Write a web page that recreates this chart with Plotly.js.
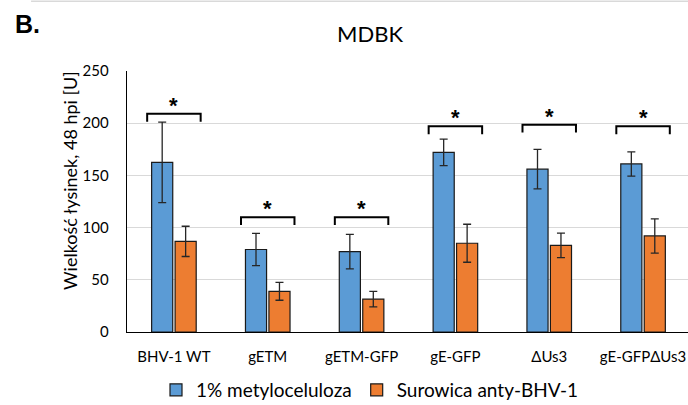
<!DOCTYPE html>
<html><head><meta charset="utf-8">
<script src="https://cdn.plot.ly/plotly-3.0.1.min.js"></script>
<style>html,body{margin:0;padding:0;background:#fff}#chart{width:688px;height:405px}</style>
</head><body><div id="chart"></div>
<script>
var categories = ["BHV-1 WT", "gETM", "gETM-GFP", "gE-GFP", "\u0394Us3", "gE-GFP\u0394Us3"];
var seriesNames = ["1% metyloceluloza", "Surowica anty-BHV-1"];
var metyl = [162.5, 79, 77, 172, 156, 161];
var metylErr = [38.5, 15.5, 16.5, 12.7, 19, 11.6];
var surow = [86.8, 39, 31.5, 85, 83, 92];
var surowErr = [14.5, 8.6, 7.5, 18.2, 11.7, 16.4];
var bracketTop = [209, 110, 110, 197, 198.5, 197];
var yTicks = [0, 50, 100, 150, 200, 250];

var font = "Lato, 'Open Sans', sans-serif";
var traces = [
  {type:"bar", name:seriesNames[0], x:categories, y:metyl,
   marker:{color:"#5B9BD5", line:{color:"#1a1a1a", width:1.2}},
   error_y:{type:"data", array:metylErr, visible:true, color:"#262626", thickness:1.3, width:4}},
  {type:"bar", name:seriesNames[1], x:categories, y:surow,
   marker:{color:"#ED7D31", line:{color:"#1a1a1a", width:1.2}},
   error_y:{type:"data", array:surowErr, visible:true, color:"#262626", thickness:1.3, width:4}}
];

var shapes = [{type:"line", xref:"paper", yref:"paper", x0:-0.171, x1:1, y0:1.267, y1:1.267,
  line:{color:"#d9d9d9", width:1.5}}];
var annotations = [];
var legLen = 7.5;
bracketTop.forEach(function(t, i){
  var x0 = i - 0.285, x1 = i + 0.285;
  shapes.push({type:"path", xref:"x2", yref:"y",
    path:"M"+x0+","+(t-legLen)+" L"+x0+","+t+" L"+x1+","+t+" L"+x1+","+(t-legLen),
    line:{color:"#000", width:2}});
  annotations.push({xref:"x2", yref:"y", x:i, y:t, text:"<b>*</b>", showarrow:false,
    yanchor:"bottom", yshift:-6, font:{family:"Liberation Sans, Arial", size:22, color:"#000"}});
});
annotations.push({xref:"paper", yref:"paper", x:-0.203, y:1.18, xanchor:"left", yanchor:"middle",
  text:"<b>B.</b>", showarrow:false, font:{family:"Liberation Sans, Arial", size:25, color:"#000"}});
annotations.push({xref:"paper", yref:"paper", x:(370-127)/561, y:(332-33)/261, xanchor:"center", yanchor:"middle",
  text:"MDBK", showarrow:false, font:{family:font, size:22, color:"#000"}});
annotations.push({xref:"paper", yref:"paper", x:(70-127)/561, y:(332-181)/261, xanchor:"center", yanchor:"middle",
  textangle:-90, text:"Wielko\u015b\u0107 \u0142ysinek, 48 hpi [U]", showarrow:false, font:{family:font, size:18, color:"#000"}});

var layout = {
  width:688, height:405,
  margin:{l:127, r:0, t:71, b:73, pad:0, autoexpand:false},
  paper_bgcolor:"#fff", plot_bgcolor:"#fff",
  barmode:"group", bargap:0.5, bargroupgap:0.1,
  showlegend:true,
  legend:{orientation:"h", x:(370-127)/561, xanchor:"center", y:(332-390)/261, yanchor:"middle",
    font:{family:font, size:19, color:"#000"}, itemclick:false, traceorder:"normal"},
  xaxis:{type:"category", range:[-0.5, 5.479], showgrid:false, showline:true, linecolor:"#000", linewidth:1.3,
    ticks:"", tickfont:{family:font, size:15, color:"#000"}, ticklabelstandoff:11, fixedrange:true, automargin:false},
  xaxis2:{overlaying:"x", anchor:"y", range:[-0.5, 5.479], visible:false, showgrid:false},
  yaxis:{range:[0, 250], tickvals:yTicks, showgrid:true, gridcolor:"#d9d9d9", gridwidth:1,
    showline:true, linecolor:"#000", linewidth:1.3, ticks:"", zeroline:false, automargin:false,
    tickfont:{family:font, size:15, color:"#000"}, ticklabelstandoff:14},
  shapes:shapes, annotations:annotations
};
Plotly.newPlot("chart", traces, layout, {displayModeBar:false, staticPlot:true});
</script></body></html>
